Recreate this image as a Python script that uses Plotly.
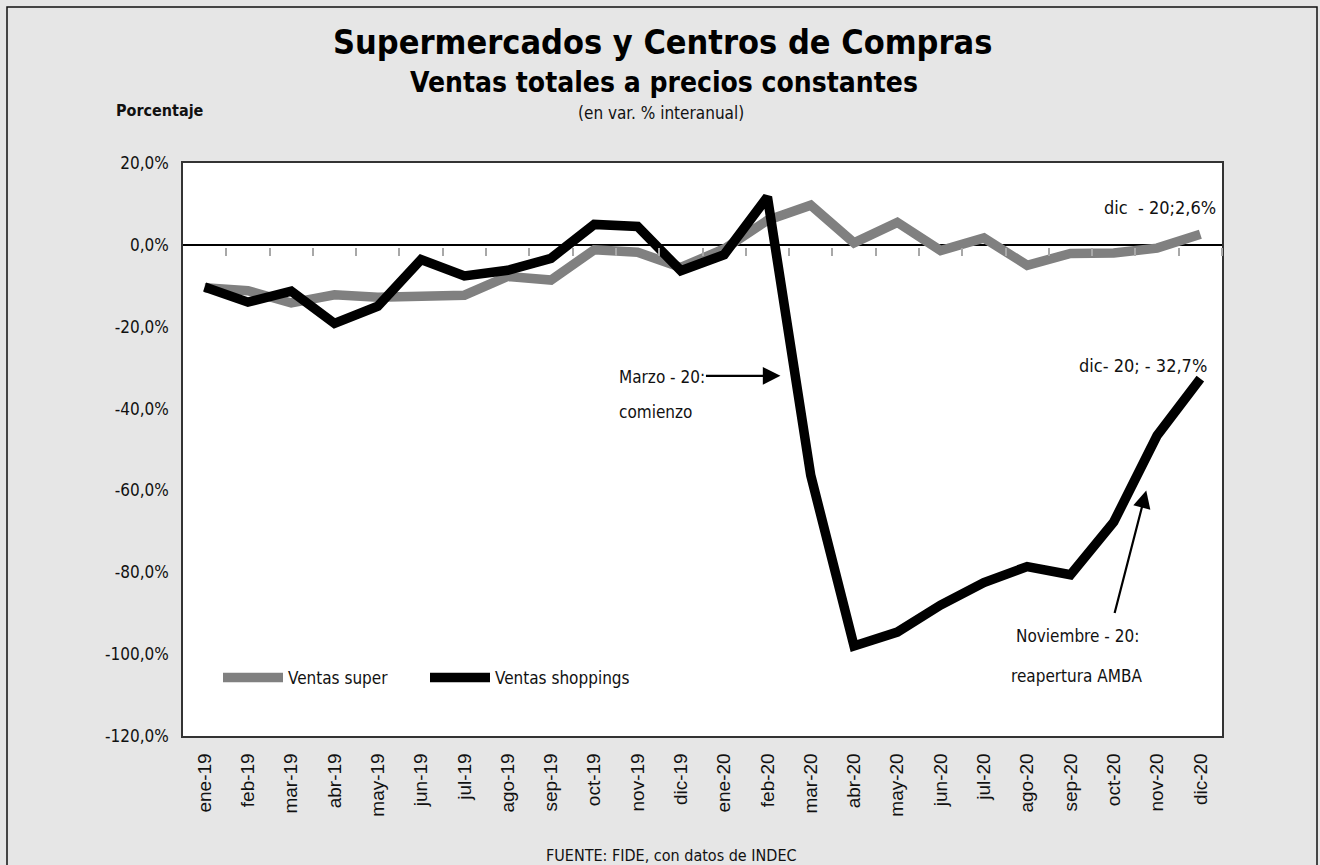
import plotly.graph_objects as go

# Monthly year-on-year change in total sales at constant prices (%)
meses = ["ene-19", "feb-19", "mar-19", "abr-19", "may-19", "jun-19", "jul-19",
         "ago-19", "sep-19", "oct-19", "nov-19", "dic-19", "ene-20", "feb-20",
         "mar-20", "abr-20", "may-20", "jun-20", "jul-20", "ago-20", "sep-20",
         "oct-20", "nov-20", "dic-20"]
ventas_super = [-10.5, -11.2, -14.2, -12.2, -12.8, -12.8, -12.3, -7.7, -8.6, -1.2,
                -1.8, -5.5, -1.0, 6.0, 9.7, 0.5, 5.5, -1.4, 1.7, -5.0, -2.1, -2.0,
                -0.8, 2.6]
ventas_shoppings = [-10.3, -14.0, -11.3, -19.2, -15.0, -3.6, -7.6, -6.2, -3.3, 5.0,
                    4.5, -6.3, -2.4, 11.7, -56.3, -98.0, -94.6, -88.0, -82.5, -78.6,
                    -80.6, -67.7, -46.6, -32.7]
y_ticks = [20, 0, -20, -40, -60, -80, -100, -120]
y_tick_text = ["20,0%", "0,0%", "-20,0%", "-40,0%", "-60,0%", "-80,0%", "-100,0%", "-120,0%"]

W, H = 1320, 865
ML, MR, MT, MB = 183, 98, 163, 129
PW, PH = W - ML - MR, H - MT - MB

NARROW = "Liberation Sans Narrow, Arial Narrow, DejaVu Sans Condensed, sans-serif"
ARIAL = "Liberation Sans, Arial, sans-serif"
HEAVY = "DejaVu Sans Condensed, Arial Narrow, sans-serif"


def px(x):
    return (x - ML) / PW


def py(y):
    return (H - MB - y) / PH


x = list(range(len(meses)))

fig = go.Figure()
fig.add_trace(go.Scatter(x=x, y=ventas_super, mode="lines", name="Ventas super",
                         line=dict(color="#808080", width=9.5)))
fig.add_trace(go.Scatter(x=x, y=ventas_shoppings, mode="lines", name="Ventas shoppings",
                         line=dict(color="#000000", width=9.5)))
# invisible trace carrying the secondary axis with the ticks on the zero line
fig.add_trace(go.Scatter(x=[x[0]], y=[0], xaxis="x2", mode="markers",
                         marker=dict(opacity=0), showlegend=False, hoverinfo="skip"))

fig.update_layout(
    width=W, height=H,
    margin=dict(l=ML, r=MR, t=MT, b=MB),
    paper_bgcolor="#e6e6e6",
    plot_bgcolor="#ffffff",
    showlegend=True,
    legend=dict(orientation="h", x=px(218), y=py(678), xanchor="left", yanchor="middle",
                bgcolor="rgba(0,0,0,0)", font=dict(family=NARROW, size=17, color="#111"),
                itemwidth=60, entrywidth=132, entrywidthmode="pixels", tracegroupgap=0),
    xaxis=dict(range=[-0.5, len(meses) - 0.5], tickmode="array", tickvals=x,
               ticktext=meses, tickangle=-90, ticks="", showgrid=False, zeroline=False,
               showline=True, mirror=True, linecolor="#333", linewidth=1.5,
               tickfont=dict(family=ARIAL, size=19, color="#111"), ticklabelstandoff=8),
    xaxis2=dict(overlaying="x", anchor="free", position=py(247), side="bottom",
                range=[-0.5, len(meses) - 0.5], tickmode="array",
                tickvals=[i + 0.5 for i in x], ticks="outside", ticklen=8, tickwidth=1.5,
                tickcolor="#a8a8a8", showticklabels=False, showgrid=False,
                zeroline=False, showline=False, layer="above traces"),
    yaxis=dict(range=[-120, 20], tickmode="array", tickvals=y_ticks, ticktext=y_tick_text,
               ticks="", showgrid=False, zeroline=True, zerolinecolor="#000",
               zerolinewidth=1.5, showline=True, mirror=True, linecolor="#333",
               linewidth=1.5, tickfont=dict(family=NARROW, size=17, color="#111"),
               ticklabelstandoff=9),
)

ann = [
    dict(text="<b>Supermercados y Centros de Compras</b>", x=px(662), y=py(42),
         font=dict(family=HEAVY, size=34, color="#000")),
    dict(text="<b>Ventas totales a precios constantes</b>", x=px(664), y=py(82),
         font=dict(family=HEAVY, size=28, color="#000")),
    dict(text="(en var. % interanual)", x=px(661), y=py(113),
         font=dict(family=NARROW, size=17, color="#111")),
    dict(text="<b>Porcentaje</b>", x=px(160), y=py(110),
         font=dict(family=NARROW, size=16, color="#111")),
    dict(text="FUENTE: FIDE, con datos de INDEC", x=px(671), y=py(855),
         font=dict(family=NARROW, size=16, color="#111")),
    dict(text="Marzo - 20:", x=px(662), y=py(377),
         font=dict(family=NARROW, size=17, color="#111")),
    dict(text="comienzo", x=px(655), y=py(412),
         font=dict(family=NARROW, size=17, color="#111")),
    dict(text="Noviembre - 20:", x=px(1077), y=py(636),
         font=dict(family=NARROW, size=17, color="#111")),
    dict(text="reapertura AMBA", x=px(1076), y=py(676),
         font=dict(family=NARROW, size=17, color="#111")),
]
for a in ann:
    fig.add_annotation(xref="paper", yref="paper", showarrow=False,
                       xanchor="center", yanchor="middle", **a)


def pct(v):
    return f"{v:.1f}".replace(".", ",") + "%"


# value labels for the last month of each series
fig.add_annotation(x=x[-1], y=ventas_super[-1], text=f"dic  - 20;{pct(ventas_super[-1])}",
                   showarrow=False, xanchor="right", yanchor="middle", xshift=18, yshift=27,
                   font=dict(family=NARROW, size=18, color="#111"))
fig.add_annotation(x=x[-1], y=ventas_shoppings[-1],
                   text=f"dic- 20; - {pct(abs(ventas_shoppings[-1]))}",
                   showarrow=False, xanchor="right", yanchor="middle", xshift=9, yshift=13,
                   font=dict(family=NARROW, size=18, color="#111"))

# event arrows
fig.add_annotation(x=13.3, y=-32.0, ax=-76, ay=0, text="", showarrow=True,
                   arrowhead=2, arrowsize=1.6, arrowwidth=2.2, arrowcolor="#000")
fig.add_annotation(x=21.75, y=-60.0, ax=-32, ay=124, text="", showarrow=True,
                   arrowhead=2, arrowsize=1.6, arrowwidth=2.2, arrowcolor="#000")

# outer frame around the whole figure
fig.add_shape(type="rect", xref="paper", yref="paper", x0=px(7), x1=px(1317),
              y0=py(880), y1=py(7), line=dict(color="#111", width=1.5),
              fillcolor="rgba(0,0,0,0)", layer="below")

fig.write_html("out.html")
